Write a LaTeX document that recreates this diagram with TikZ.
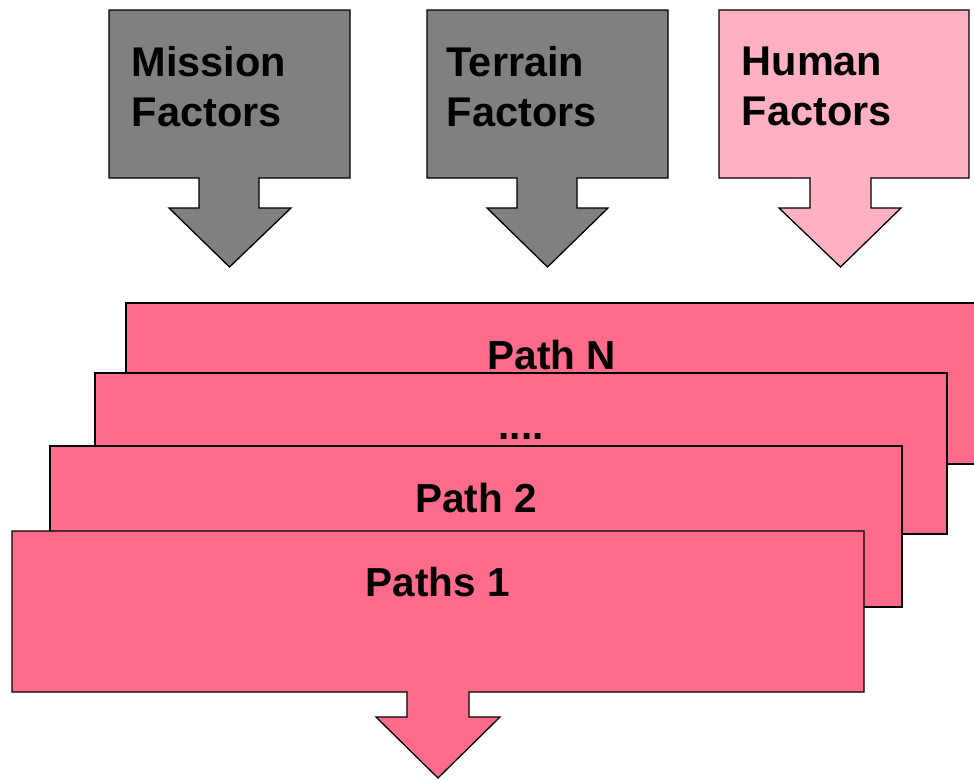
\documentclass[tikz,border=0pt]{standalone}
\usepackage{fontspec}
\setmainfont{Liberation Sans}
\definecolor{factorgray}{HTML}{808080}
\definecolor{humanpink}{HTML}{FFB1C1}
\definecolor{pathpink}{HTML}{FF6B8A}
\begin{document}
\begin{tikzpicture}[x=1pt,y=-1pt,
  outline/.style={draw=black,line width=1.3pt,line join=miter},
  factorlabel/.style={anchor=north west,inner sep=0pt,align=left,
    font=\fontsize{41.5}{50}\selectfont\bfseries},
  pathlabel/.style={anchor=base,inner sep=0pt,
    font=\fontsize{40.5}{48}\selectfont\bfseries}]
\useasboundingbox (0,0) rectangle (974,779);

% --- factor callouts, each a box with a down arrow under it ---
\path[outline,fill=factorgray]
  (109,10) -- (350,10) -- (350,178) -- (259,178) -- (259,208) -- (291,208)
  -- (229.5,267) -- (169,208) -- (199,208) -- (199,178) -- (109,178) -- cycle;
\node[factorlabel] (mission) at (131.5,46.5) {Mission\\Factors};

\path[outline,fill=factorgray]
  (427,10) -- (668,10) -- (668,178) -- (577,178) -- (577,208) -- (608,208)
  -- (547.5,267) -- (487,208) -- (517,208) -- (517,178) -- (427,178) -- cycle;
\node[factorlabel] (terrain) at (446.5,46.5) {Terrain\\Factors};

\path[outline,fill=humanpink]
  (719,10) -- (969,10) -- (969,178) -- (871,178) -- (871,208) -- (901,208)
  -- (840.5,267) -- (779,208) -- (810,208) -- (810,178) -- (719,178) -- cycle;
\node[factorlabel] (human) at (741.5,46.5) {Human\\Factors};

% --- stack of path cards, back to front ---
\path[outline,fill=pathpink] (126,303) rectangle (978,464);
\node[pathlabel] (pathN) at (552,369.5) {Path N};

\path[outline,fill=pathpink] (95,373) rectangle (947,534);
\node[pathlabel] (pathdots) at (521,439.5) {....};

\path[outline,fill=pathpink] (50,446) rectangle (902,607);
\node[pathlabel] (path2) at (476,512.5) {Path 2};

\path[outline,fill=pathpink]
  (12,531) -- (864,531) -- (864,692) -- (469,692) -- (469,717) -- (500,717)
  -- (438,778) -- (376,717) -- (407,717) -- (407,692) -- (12,692) -- cycle;
\node[pathlabel] (path1) at (438,596) {Paths 1};
\end{tikzpicture}
\end{document}
